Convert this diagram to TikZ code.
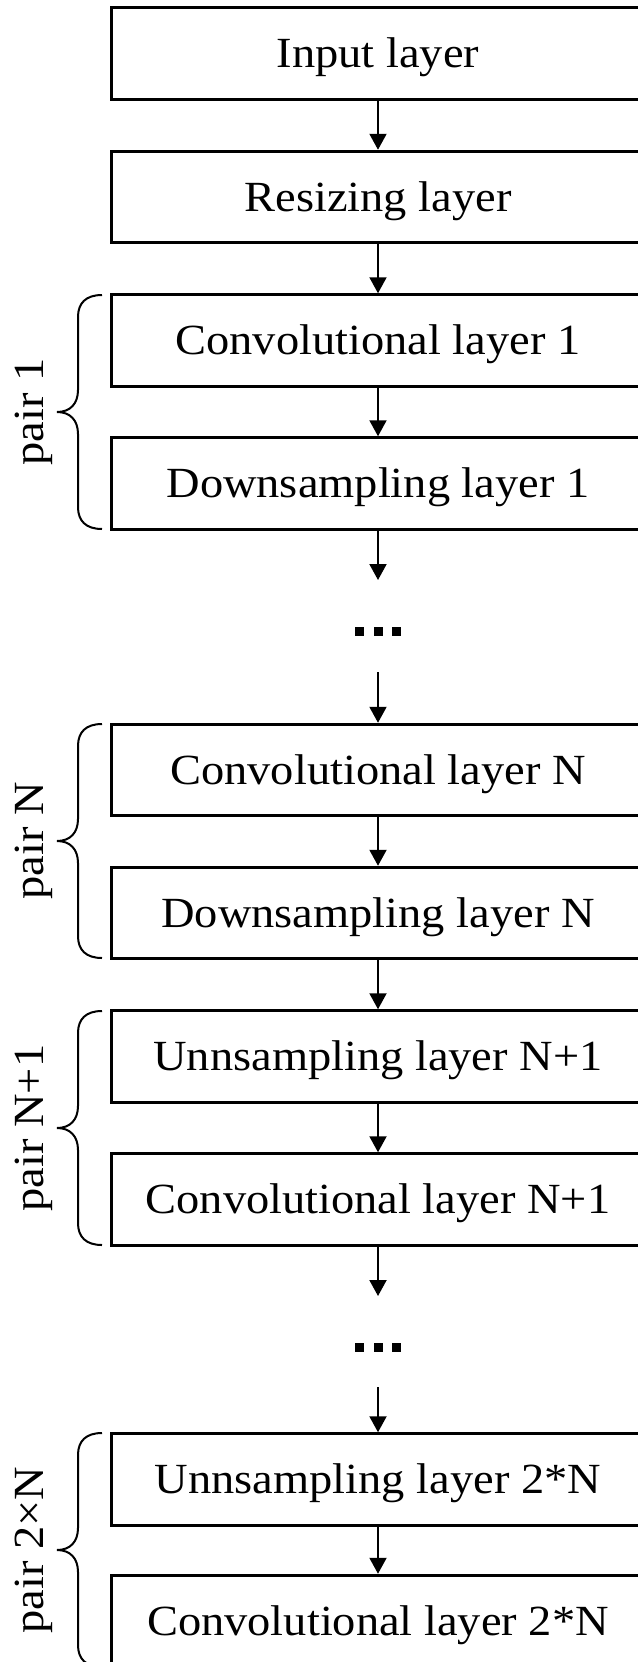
\documentclass[tikz,border=0pt]{standalone}
\usepackage{fontspec}
\setmainfont{Liberation Serif}[FakeStretch=1.08]
\usetikzlibrary{arrows.meta}

\tikzset{
  layer/.style={draw, line width=3pt, minimum width=534pt, minimum height=91.5pt,
    inner sep=0pt, text height=28.5pt, text depth=0pt,
    font=\fontsize{43}{51}\selectfont},
  flow/.style={line width=2pt, -{Triangle[length=16pt,width=17pt]}},
  pairbrace/.style={line width=2pt},
  pairlabel/.style={rotate=90, anchor=base, inner sep=0pt,
    font=\fontsize{43}{51}\selectfont},
  dotmark/.style={inner sep=0pt, minimum size=0pt},
}

% curly brace spanning the left side of a pair of layers: top, middle, bottom
\newcommand{\pairbr}[3]{%
  \draw[pairbrace] (102,#1) .. controls (86,#1) and (78,#1+8) .. (78,#1+22)
    -- (78,#2-22) .. controls (78,#2-8) and (70,#2) .. (57,#2)
    .. controls (70,#2) and (78,#2+8) .. (78,#2+22)
    -- (78,#3-22) .. controls (78,#3-8) and (86,#3) .. (102,#3);}

% three square dots around a named node
\newcommand{\squaredots}[1]{%
  \foreach \dx in {-18.5,0,18.5}
    \fill ([xshift=\dx pt]#1) ++(-4.5,-4.5) rectangle ++(9,9);}

\begin{document}
\begin{tikzpicture}[x=1pt,y=-1pt]
\useasboundingbox (0,0) rectangle (637,1662);

\node[layer] (in)  at (378,53.5)   {Input layer};
\node[layer] (rs)  at (378,197)    {Resizing layer};
\node[layer] (c1)  at (378,340.5)  {Convolutional layer 1};
\node[layer] (d1)  at (378,483.5)  {Downsampling layer 1};
\node[layer] (cN)  at (378,770)    {Convolutional layer N};
\node[layer] (dN)  at (378,913)    {Downsampling layer N};
\node[layer] (uN1) at (378,1056.5) {Unnsampling layer N+1};
\node[layer] (cN1) at (378,1199.5) {Convolutional layer N+1};
\node[layer] (u2N) at (378,1479.5) {Unnsampling layer 2*N};
\node[layer] (c2N) at (378,1621)   {Convolutional layer 2*N};

\coordinate (a1) at (378,580);
\coordinate (a2) at (378,672);
\coordinate (b1) at (378,1296);
\coordinate (b2) at (378,1387);

\node[dotmark] (dots1) at (378,631) {};
\node[dotmark] (dots2) at (378,1347) {};
\squaredots{dots1}
\squaredots{dots2}

\draw[flow] (in) -- (rs);
\draw[flow] (rs) -- (c1);
\draw[flow] (c1) -- (d1);
\draw[flow] (d1) -- (a1);
\draw[flow] (a2) -- (cN);
\draw[flow] (cN) -- (dN);
\draw[flow] (dN) -- (uN1);
\draw[flow] (uN1) -- (cN1);
\draw[flow] (cN1) -- (b1);
\draw[flow] (b2) -- (u2N);
\draw[flow] (u2N) -- (c2N);

\pairbr{295}{412}{529}
\pairbr{724}{841}{958}
\pairbr{1011}{1128}{1245}
\pairbr{1433}{1550}{1667}

\node[pairlabel] (p1)  at (43,412)  {pair 1};
\node[pairlabel] (pN)  at (43,841)  {pair N};
\node[pairlabel] (pN1) at (43,1128) {pair N+1};
\node[pairlabel] (p2N) at (43,1550) {pair 2×N};
\end{tikzpicture}
\end{document}
